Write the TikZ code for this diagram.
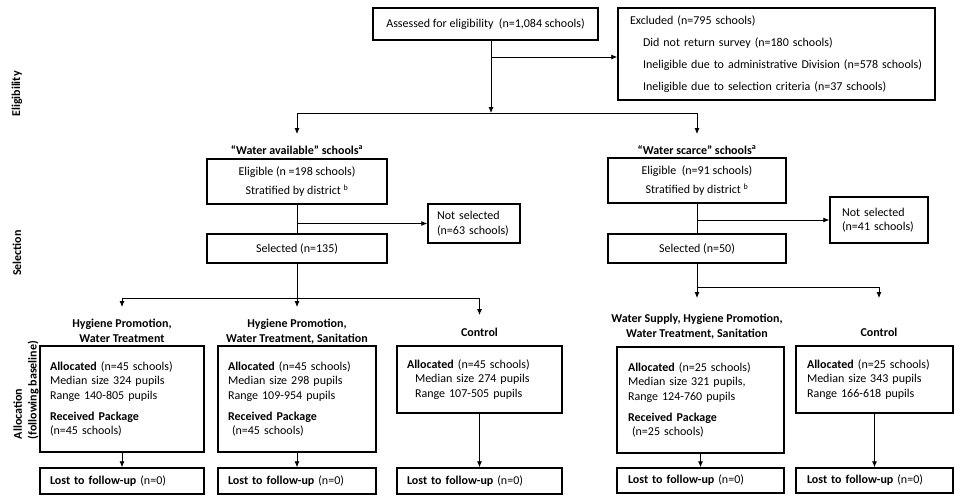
\documentclass[tikz,border=0pt]{standalone}
\usepackage{fontspec}
\setmainfont{Carlito}
\usetikzlibrary{arrows.meta}
\newcommand{\flowsize}{\fontsize{12}{14.6}\selectfont}
\tikzset{
  flowbox/.style={draw,line width=1.5pt,inner sep=0pt,align=center,font=\flowsize},
  lbox/.style={flowbox,align=left,inner xsep=#1},
  grouphead/.style={font=\flowsize\bfseries,align=center,anchor=north,inner xsep=0pt,inner ysep=#1},
  grouphead/.default=12pt,
  stage/.style={font=\flowsize\bfseries,rotate=90,align=left,inner sep=0pt}
}
\begin{document}
\begin{tikzpicture}[x=1pt,y=-1pt,>={Latex[length=6pt,width=5pt]},line width=0.8pt]
	\useasboundingbox (0,0) rectangle (955,498);
	% stages
	\node[stage] (elig) at (17,94) {Eligibility};
	\node[stage] (sel) at (17,253) {Selection};
	\node[stage] (alloc) at (26,390) {Allocation\\(following baseline)};
	% eligibility
	\node[flowbox,minimum width=225pt,minimum height=32pt] (assess) at (485.5,24) {Assessed for eligibility~ (n=1,084 schools)};
	\node[lbox=12pt,text width=293pt,minimum height=92pt] (excl) at (776.5,54) {Excluded (n=795 schools)\\[7.4pt]
		\hspace*{13pt}Did not return survey (n=180 schools)\\[7.4pt]
		\hspace*{13pt}Ineligible due to administrative Division (n=578 schools)\\[7.4pt]
		\hspace*{13pt}Ineligible due to selection criteria (n=37 schools)};
	\coordinate (split) at (491,113);
	\coordinate (ex) at (491,57);
	\draw[->] (assess.south -| split) -- (split);
	\draw[->] (ex) -- (ex -| excl.west);
	% selection
	\node[grouphead=11pt] (wa) at (297,134) {“Water available” schools\textsuperscript{a}};
	\node[grouphead=11pt] (ws) at (697,134) {“Water scarce” schools\textsuperscript{a}};
	\draw[->] (split) -| (wa.north);
	\draw[->] (split) -| (ws.north);
	\node[flowbox,minimum width=180pt,minimum height=45pt] (eligA) at (297,181.5) {Eligible (n =198 schools)\\[4.4pt]Stratified by district \textsuperscript{b}};
	\node[flowbox,minimum width=180pt,minimum height=29pt] (selA) at (297,248.5) {Selected (n=135)};
	\node[lbox=9pt,text width=74pt,minimum height=39pt] (nsA) at (474,223.5) {Not selected\\(n=63 schools)};
	\node[flowbox,minimum width=178pt,minimum height=45pt] (eligB) at (697,180.5) {Eligible~ (n=91 schools)\\[4.4pt]Stratified by district \textsuperscript{b}};
	\node[flowbox,minimum width=178pt,minimum height=29pt] (selB) at (697,248.5) {Selected (n=50)};
	\node[lbox=12pt,text width=74pt,minimum height=46pt] (nsB) at (879,220) {Not selected\\(n=41 schools)};
	\draw (eligA) -- (selA);
	\draw[->] (eligA.south |- nsA.west) -- (nsA.west);
	\draw (eligB) -- (selB);
	\draw[->] (eligB.south |- nsB.west) -- (nsB.west);
	% allocation
	\coordinate (brA) at (297,298);
	\coordinate (brB) at (697,287);
	\node[grouphead] (hA) at (122,307) {Hygiene Promotion,\\Water Treatment};
	\node[grouphead] (hB) at (297,307) {Hygiene Promotion,\\Water Treatment, Sanitation};
	\node[grouphead=13pt] (hC) at (479.5,315) {Control};
	\node[grouphead=16pt] (hD) at (697,298) {Water Supply, Hygiene Promotion,\\Water Treatment, Sanitation};
	\node[grouphead=30pt] (hE) at (879,298) {Control};
	\draw (selA) -- (brA);
	\draw[->] (brA) -| (hA.north);
	\draw[->] (brA) -- (hB.north);
	\draw[->] (brA) -| (hC.north);
	\draw (selB) -- (brB);
	\draw[->] (brB) -- (hD.north);
	\draw[->] (brB) -| (hE.north);
	\node[lbox=10pt,text width=144pt,minimum height=106pt] (alA) at (122,399) {\textbf{Allocated} (n=45 schools)\\Median size 324 pupils\\Range 140-805 pupils\\[6.4pt]\textbf{Received Package}\\(n=45 schools)};
	\node[lbox=10pt,text width=138pt,minimum height=106pt] (alB) at (297,399) {\textbf{Allocated} (n=45 schools)\\Median size 298 pupils\\Range 109-954 pupils\\[6.4pt]\textbf{Received Package}\\\ (n=45 schools)};
	\node[lbox=10pt,text width=145pt,minimum height=67pt] (alC) at (479.5,379.5) {\textbf{Allocated} (n=45 schools)\\\hspace*{8pt}Median size 274 pupils\\\hspace*{8pt}Range 107-505 pupils};
	\node[lbox=11pt,text width=145pt,minimum height=106pt] (alD) at (700.5,400) {\textbf{Allocated} (n=25 schools)\\Median size 321 pupils,\\Range 124-760 pupils\\[6.4pt]\textbf{Received Package}\\\ (n=25 schools)};
	\node[lbox=11pt,text width=135pt,minimum height=67pt] (alE) at (874.5,379.5) {\textbf{Allocated} (n=25 schools)\\Median size 343 pupils\\Range 166-618 pupils};
	% follow-up
	\node[lbox=10pt,text width=144pt,minimum height=26pt] (lostA) at (122,481) {\textbf{Lost to follow-up} (n=0)};
	\node[lbox=10pt,text width=138pt,minimum height=26pt] (lostB) at (297,481) {\textbf{Lost to follow-up} (n=0)};
	\node[lbox=10pt,text width=145pt,minimum height=26pt] (lostC) at (479.5,481) {\textbf{Lost to follow-up} (n=0)};
	\node[lbox=11pt,text width=145pt,minimum height=25pt] (lostD) at (700.5,480.5) {\textbf{Lost to follow-up} (n=0)};
	\node[lbox=11pt,text width=135pt,minimum height=25pt] (lostE) at (874.5,480.5) {\textbf{Lost to follow-up} (n=0)};
	\foreach \a/\b in {alA/lostA,alB/lostB,alC/lostC,alD/lostD,alE/lostE}
		\draw[->] (\a) -- (\b);
\end{tikzpicture}
\end{document}
